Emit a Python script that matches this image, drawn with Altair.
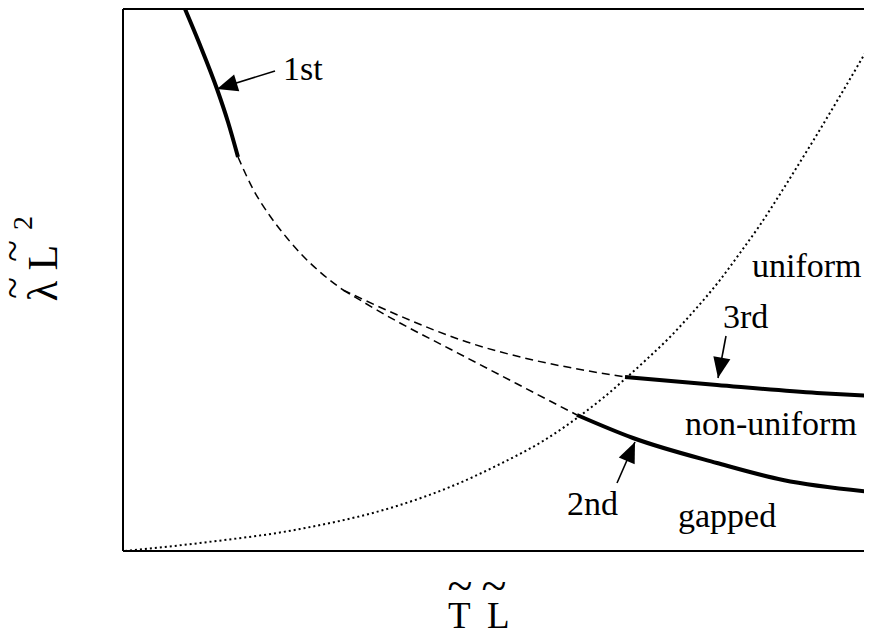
import math
import altair as alt
import pandas as pd

# curve points (x, y in plot units: 1 unit = 1 px, origin bottom-left of frame)
first_x = [62, 77, 94, 105, 115]
first_y = [542, 506, 462, 429, 394]

dash_main_x = [115, 130, 147, 164, 180, 197, 220]
dash_main_y = [394, 362, 335, 313, 295, 279, 261]
dash_up_x = [220, 277, 344, 410, 460, 502]
dash_up_y = [261, 235, 209, 191, 181, 174]
dash_low_x = [220, 277, 327, 377, 427, 454]
dash_low_y = [261, 228, 202, 176, 150, 136]

third_x = [502, 594, 694, 749]
third_y = [174, 166, 158, 155]
second_x = [454, 510, 594, 660, 749]
second_y = [136, 113, 88, 71, 59]

dot_x = [2, 77, 177, 277, 327, 377, 420, 454, 480, 502, 524, 547, 570, 597, 617, 637, 664, 690, 717, 734, 749]
dot_y = [0, 8, 22, 46, 64, 87, 110, 133, 153, 172, 192, 214, 239, 271, 298, 326, 368, 410, 455, 484, 510]

label_text = ["1st", "3rd", "2nd", "uniform", "non-uniform", "gapped"]
label_x = [160, 600, 444, 629, 562, 555]
label_y = [471, 223, 36, 274, 116, 24]

arrow_name = ["1st", "3rd", "2nd"]
arrow_tail_x = [152, 603, 494]
arrow_tail_y = [480, 215, 68]
arrow_tip_x = [94, 595, 512]
arrow_tip_y = [462, 173, 109]

# axis title pieces
xt_text = ["T", "L"]
xt_x = [325, 364]
xt_y = [-77, -77]
xtilde_x = [337, 371]
xtilde_y = [-50, -50]

yt_text = ["\u03bb L"]
yt_x = [-66]
yt_y = [278]
ytilde_x = [-97, -97]
ytilde_y = [263, 300]
ysup_text = ["2"]
ysup_x = [-91]
ysup_y = [328]

XMAX, YMAX = 749, 542


def curve_df(name, xs, ys):
    return pd.DataFrame({"x": xs, "y": ys, "curve": name, "i": range(len(xs))})


solid = pd.concat([curve_df("1st", first_x, first_y),
                   curve_df("2nd", second_x, second_y),
                   curve_df("3rd", third_x, third_y)])
dashed = pd.concat([curve_df("main", dash_main_x, dash_main_y),
                    curve_df("upper", dash_up_x, dash_up_y),
                    curve_df("lower", dash_low_x, dash_low_y)])
dotted = curve_df("boundary", dot_x, dot_y)

arrows = pd.DataFrame({
    "name": arrow_name, "tx": arrow_tail_x, "ty": arrow_tail_y,
    "hx": arrow_tip_x, "hy": arrow_tip_y,
})
arrows["ang"] = [
    (math.degrees(math.atan2(hx - tx, hy - ty)) + 360) % 360
    for tx, ty, hx, hy in zip(arrows.tx, arrows.ty, arrows.hx, arrows.hy)
]
labels = pd.DataFrame({"text": label_text, "x": label_x, "y": label_y})
xtitle = pd.DataFrame({"text": xt_text, "x": xt_x, "y": xt_y})
xtilde = pd.DataFrame({"text": ["~", "~"], "x": xtilde_x, "y": xtilde_y})
ytitle = pd.DataFrame({"text": yt_text, "x": yt_x, "y": yt_y})
ytilde = pd.DataFrame({"text": ["~", "~"], "x": ytilde_x, "y": ytilde_y})
ysup = pd.DataFrame({"text": ysup_text, "x": ysup_x, "y": ysup_y})

FONT = "Liberation Serif, Times New Roman, serif"
xs = alt.Scale(domain=[0, XMAX], nice=False, zero=False)
ys = alt.Scale(domain=[0, YMAX], nice=False, zero=False)

X = alt.X("x:Q", scale=xs, axis=None)
Y = alt.Y("y:Q", scale=ys, axis=None)

solid_layer = alt.Chart(solid).mark_line(color="black", strokeWidth=4, interpolate="monotone", clip=True).encode(
    x=X, y=Y, detail="curve:N", order="i:Q")
dashed_layer = alt.Chart(dashed).mark_line(color="black", strokeWidth=1.5, strokeDash=[8, 5],
                                           interpolate="monotone", clip=True).encode(
    x="x:Q", y="y:Q", detail="curve:N", order="i:Q")
dotted_layer = alt.Chart(dotted).mark_line(color="black", strokeWidth=2, strokeDash=[2, 3],
                                           interpolate="monotone", clip=True).encode(
    x="x:Q", y="y:Q", order="i:Q")

arrow_lines = alt.Chart(arrows).mark_rule(color="black", strokeWidth=1.6).encode(
    x="tx:Q", y="ty:Q", x2="hx:Q", y2="hy:Q")
arrow_heads = alt.Chart(arrows).mark_point(
    shape="M0,0 L-0.42,1 L0.42,1 Z", filled=True, size=1700, color="black", opacity=1, strokeWidth=0
).encode(x="hx:Q", y="hy:Q", angle=alt.Angle("ang:Q", scale=None))

text_layer = alt.Chart(labels).mark_text(font=FONT, fontSize=34, align="left", baseline="alphabetic",
                                         color="black").encode(x="x:Q", y="y:Q", text="text:N")

xtitle_layer = alt.Chart(xtitle).mark_text(font=FONT, fontSize=37, align="left", baseline="alphabetic",
                                           color="black").encode(x="x:Q", y="y:Q", text="text:N")
xtilde_layer = alt.Chart(xtilde).mark_text(font=FONT, fontSize=46, align="center", baseline="alphabetic",
                                           color="black").encode(x="x:Q", y="y:Q", text="text:N")
ytitle_layer = alt.Chart(ytitle).mark_text(font=FONT, fontSize=42, align="center", baseline="alphabetic",
                                           angle=270, color="black").encode(x="x:Q", y="y:Q", text="text:N")
ytilde_layer = alt.Chart(ytilde).mark_text(font=FONT, fontSize=40, align="center", baseline="alphabetic",
                                           angle=270, color="black").encode(x="x:Q", y="y:Q", text="text:N")
ysup_layer = alt.Chart(ysup).mark_text(font=FONT, fontSize=28, align="center", baseline="alphabetic",
                                       angle=270, color="black").encode(x="x:Q", y="y:Q", text="text:N")

frame_top = alt.Chart(labels).mark_rule(color="black", strokeWidth=2).encode(
    x=alt.value(0), x2=alt.value(XMAX), y=alt.value(0))
frame_bottom = alt.Chart(labels).mark_rule(color="black", strokeWidth=2).encode(
    x=alt.value(0), x2=alt.value(XMAX), y=alt.value(YMAX))
frame_left = alt.Chart(labels).mark_rule(color="black", strokeWidth=2).encode(
    x=alt.value(0), y=alt.value(0), y2=alt.value(YMAX))

chart = alt.layer(
    solid_layer, dashed_layer, dotted_layer, arrow_lines, arrow_heads, text_layer,
    xtitle_layer, xtilde_layer, ytitle_layer, ytilde_layer, ysup_layer,
    frame_top, frame_bottom, frame_left
).properties(
    width=XMAX, height=YMAX, autosize="none",
    padding={"left": 115, "top": 1, "right": -8, "bottom": 79}
).configure_view(stroke=None).configure(background="white")

chart.save("out.html", embed_options={"renderer": "svg", "actions": False})
